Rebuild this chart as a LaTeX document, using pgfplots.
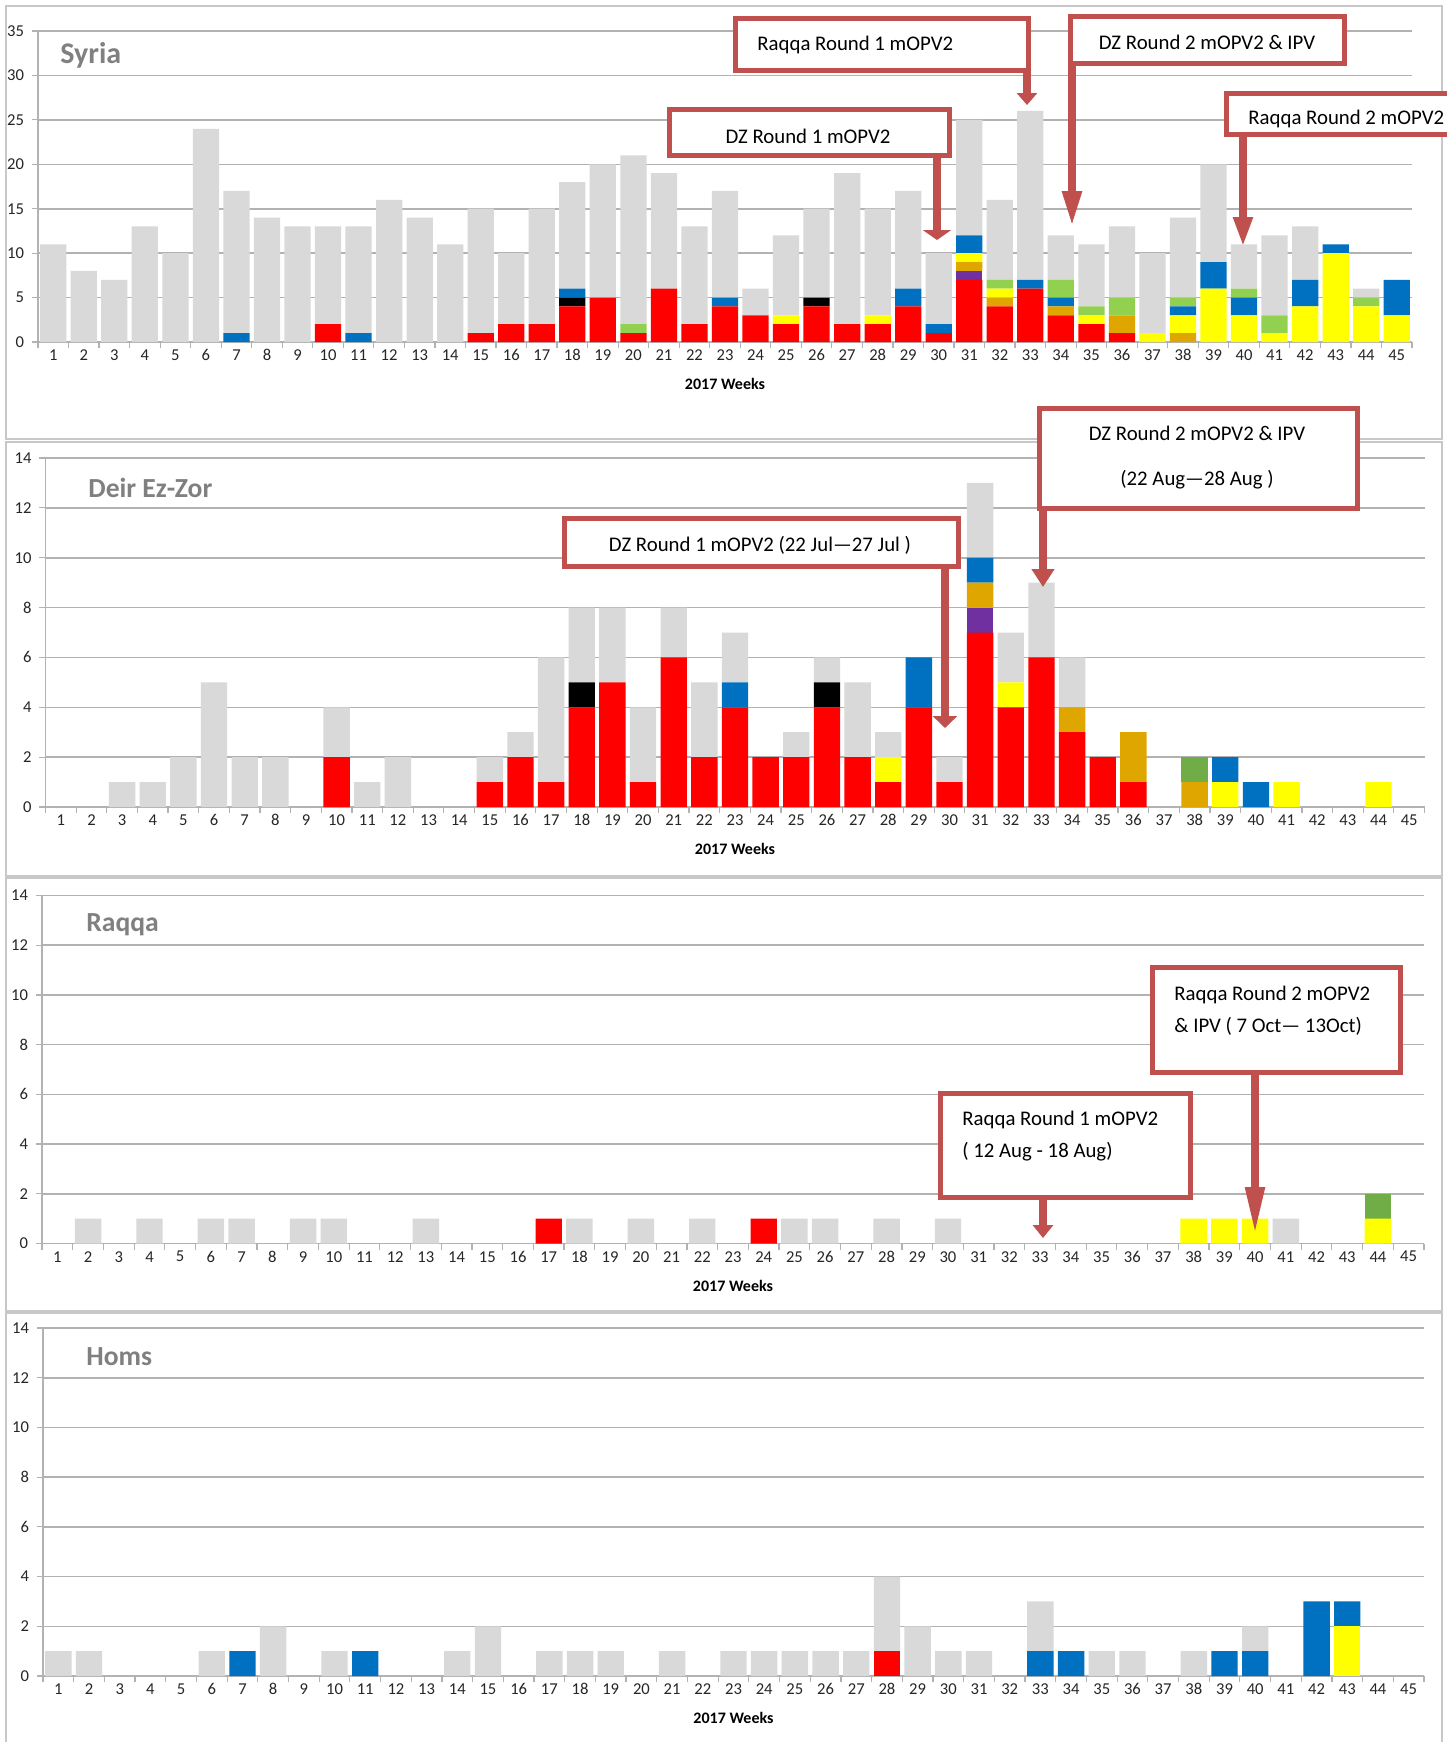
\documentclass[border=0pt]{standalone}
\usepackage{fontspec}
\setmainfont{Carlito}
\usepackage{pgfplots}
\pgfplotsset{compat=1.18}
\usepackage{pgfplotstable}
\usetikzlibrary{arrows.meta}

\definecolor{cRed}{RGB}{255,0,0}
\definecolor{cBlack}{RGB}{0,0,0}
\definecolor{cPurple}{RGB}{112,48,160}
\definecolor{cOrange}{RGB}{224,166,0}
\definecolor{cYellow}{RGB}{255,255,0}
\definecolor{cBlue}{RGB}{0,112,192}
\definecolor{cLGreen}{RGB}{146,208,80}
\definecolor{cDGreen}{RGB}{112,173,71}
\definecolor{cGrey}{RGB}{217,217,217}
\definecolor{annot}{RGB}{192,80,77}
\definecolor{gridc}{RGB}{178,178,178}
\definecolor{framec}{RGB}{200,200,200}
\definecolor{titlec}{RGB}{128,128,128}

% columns: week red black purple orange yellow blue green grey
\pgfplotstableread{
w r k p o y b g gr
1 0 0 0 0 0 0 0 11
2 0 0 0 0 0 0 0 8
3 0 0 0 0 0 0 0 7
4 0 0 0 0 0 0 0 13
5 0 0 0 0 0 0 0 10
6 0 0 0 0 0 0 0 24
7 0 0 0 0 0 1 0 16
8 0 0 0 0 0 0 0 14
9 0 0 0 0 0 0 0 13
10 2 0 0 0 0 0 0 11
11 0 0 0 0 0 1 0 12
12 0 0 0 0 0 0 0 16
13 0 0 0 0 0 0 0 14
14 0 0 0 0 0 0 0 11
15 1 0 0 0 0 0 0 14
16 2 0 0 0 0 0 0 8
17 2 0 0 0 0 0 0 13
18 4 1 0 0 0 1 0 12
19 5 0 0 0 0 0 0 15
20 1 0 0 0 0 0 1 19
21 6 0 0 0 0 0 0 13
22 2 0 0 0 0 0 0 11
23 4 0 0 0 0 1 0 12
24 3 0 0 0 0 0 0 3
25 2 0 0 0 1 0 0 9
26 4 1 0 0 0 0 0 10
27 2 0 0 0 0 0 0 17
28 2 0 0 0 1 0 0 12
29 4 0 0 0 0 2 0 11
30 1 0 0 0 0 1 0 8
31 7 0 1 1 1 2 0 13
32 4 0 0 1 1 0 1 9
33 6 0 0 0 0 1 0 19
34 3 0 0 1 0 1 2 5
35 2 0 0 0 1 0 1 7
36 1 0 0 2 0 0 2 8
37 0 0 0 0 1 0 0 9
38 0 0 0 1 2 1 1 9
39 0 0 0 0 6 3 0 11
40 0 0 0 0 3 2 1 5
41 0 0 0 0 1 0 2 9
42 0 0 0 0 4 3 0 6
43 0 0 0 0 10 1 0 0
44 0 0 0 0 4 0 1 1
45 0 0 0 0 3 4 0 0
}\syria

\pgfplotstableread{
w r k p o y b g gr
1 0 0 0 0 0 0 0 0
2 0 0 0 0 0 0 0 0
3 0 0 0 0 0 0 0 1
4 0 0 0 0 0 0 0 1
5 0 0 0 0 0 0 0 2
6 0 0 0 0 0 0 0 5
7 0 0 0 0 0 0 0 2
8 0 0 0 0 0 0 0 2
9 0 0 0 0 0 0 0 0
10 2 0 0 0 0 0 0 2
11 0 0 0 0 0 0 0 1
12 0 0 0 0 0 0 0 2
13 0 0 0 0 0 0 0 0
14 0 0 0 0 0 0 0 0
15 1 0 0 0 0 0 0 1
16 2 0 0 0 0 0 0 1
17 1 0 0 0 0 0 0 5
18 4 1 0 0 0 0 0 3
19 5 0 0 0 0 0 0 3
20 1 0 0 0 0 0 0 3
21 6 0 0 0 0 0 0 2
22 2 0 0 0 0 0 0 3
23 4 0 0 0 0 1 0 2
24 2 0 0 0 0 0 0 0
25 2 0 0 0 0 0 0 1
26 4 1 0 0 0 0 0 1
27 2 0 0 0 0 0 0 3
28 1 0 0 0 1 0 0 1
29 4 0 0 0 0 2 0 0
30 1 0 0 0 0 0 0 1
31 7 0 1 1 0 1 0 3
32 4 0 0 0 1 0 0 2
33 6 0 0 0 0 0 0 3
34 3 0 0 1 0 0 0 2
35 2 0 0 0 0 0 0 0
36 1 0 0 2 0 0 0 0
37 0 0 0 0 0 0 0 0
38 0 0 0 1 0 0 1 0
39 0 0 0 0 1 1 0 0
40 0 0 0 0 0 1 0 0
41 0 0 0 0 1 0 0 0
42 0 0 0 0 0 0 0 0
43 0 0 0 0 0 0 0 0
44 0 0 0 0 1 0 0 0
45 0 0 0 0 0 0 0 0
}\dz

\pgfplotstableread{
w r k p o y b g gr
2 0 0 0 0 0 0 0 1
4 0 0 0 0 0 0 0 1
6 0 0 0 0 0 0 0 1
7 0 0 0 0 0 0 0 1
9 0 0 0 0 0 0 0 1
10 0 0 0 0 0 0 0 1
13 0 0 0 0 0 0 0 1
17 1 0 0 0 0 0 0 0
18 0 0 0 0 0 0 0 1
20 0 0 0 0 0 0 0 1
22 0 0 0 0 0 0 0 1
24 1 0 0 0 0 0 0 0
25 0 0 0 0 0 0 0 1
26 0 0 0 0 0 0 0 1
28 0 0 0 0 0 0 0 1
30 0 0 0 0 0 0 0 1
38 0 0 0 0 1 0 0 0
39 0 0 0 0 1 0 0 0
40 0 0 0 0 1 0 0 0
41 0 0 0 0 0 0 0 1
44 0 0 0 0 1 0 1 0
}\raqqa

\pgfplotstableread{
w r k p o y b g gr
1 0 0 0 0 0 0 0 1
2 0 0 0 0 0 0 0 1
6 0 0 0 0 0 0 0 1
7 0 0 0 0 0 1 0 0
8 0 0 0 0 0 0 0 2
10 0 0 0 0 0 0 0 1
11 0 0 0 0 0 1 0 0
14 0 0 0 0 0 0 0 1
15 0 0 0 0 0 0 0 2
17 0 0 0 0 0 0 0 1
18 0 0 0 0 0 0 0 1
19 0 0 0 0 0 0 0 1
21 0 0 0 0 0 0 0 1
23 0 0 0 0 0 0 0 1
24 0 0 0 0 0 0 0 1
25 0 0 0 0 0 0 0 1
26 0 0 0 0 0 0 0 1
27 0 0 0 0 0 0 0 1
28 1 0 0 0 0 0 0 3
29 0 0 0 0 0 0 0 2
30 0 0 0 0 0 0 0 1
31 0 0 0 0 0 0 0 1
33 0 0 0 0 0 1 0 2
34 0 0 0 0 0 1 0 0
35 0 0 0 0 0 0 0 1
36 0 0 0 0 0 0 0 1
38 0 0 0 0 0 0 0 1
39 0 0 0 0 0 1 0 0
40 0 0 0 0 0 1 0 1
42 0 0 0 0 0 3 0 0
43 0 0 0 0 2 1 0 0
}\homs

\newcommand{\stackplots}[2]{%
  \addplot[fill=cRed,draw=none] table[x=w,y=r]{#1};
  \addplot[fill=cBlack,draw=none] table[x=w,y=k]{#1};
  \addplot[fill=cPurple,draw=none] table[x=w,y=p]{#1};
  \addplot[fill=cOrange,draw=none] table[x=w,y=o]{#1};
  \addplot[fill=cYellow,draw=none] table[x=w,y=y]{#1};
  \addplot[fill=cBlue,draw=none] table[x=w,y=b]{#1};
  \addplot[fill=#2,draw=none] table[x=w,y=g]{#1};
  \addplot[fill=cGrey,draw=none] table[x=w,y=gr]{#1};
}

\pgfplotsset{
  panel/.style={
    scale only axis, anchor=south west,
    ybar stacked, bar width=0.86,
    xmin=0.5, xmax=45.5, ymin=0,
    enlargelimits=false,
    xtick={1,...,45},
    minor xtick={0.5,1.5,...,45.5},
    axis x line*=bottom, axis y line*=left,
    axis line style={draw=gridc, line width=0.8pt},
    ymajorgrids, grid style={draw=gridc, line width=0.8pt},
    major tick length=0pt, minor tick length=3pt,
    tick align=outside,
    minor tick style={draw=gridc, line width=0.6pt},
    /pgf/number format/assume math mode=true,
    tick label style={font=\fontsize{8.3}{9}\selectfont, text=black!85},
    xticklabel style={anchor=center, yshift=-6.6pt},
    yticklabel style={anchor=east, xshift=-3.5pt},
    xlabel={2017 Weeks},
    xlabel style={font=\bfseries\fontsize{8}{9}\selectfont, at={(axis description cs:0.5,0)}, anchor=center, yshift=-21pt},
  },
}
\tikzset{
  annbox/.style={draw=annot, line width=2.5pt, fill=white},
  annarrow/.style={draw=annot, line width=4pt},
}

\begin{document}
\begin{tikzpicture}
\begin{scope}[x=0.5pt,y=-0.5pt]
\fill[white] (0,0) rectangle (1447,1742);
\draw[framec, line width=1pt] (5.5,5.5) rectangle (1442,439);
\draw[framec, line width=1pt] (5.5,442) rectangle (1442,876);
\draw[framec, line width=1pt] (5.5,878) rectangle (1442,1311);
\draw[framec, line width=1pt] (5.5,1313) rectangle (1442,1745);
\end{scope}

% Syria
\begin{axis}[panel, at={(19pt,-171pt)}, width=687pt, height=155.5pt,
  ymax=35, ytick={0,5,...,35}, minor ytick={0,5,...,35}]
\stackplots{\syria}{cLGreen}
\end{axis}

% Deir Ez-Zor
\begin{axis}[panel, at={(22.75pt,-403.5pt)}, width=689.5pt, height=174.5pt,
  ymax=14, ytick={0,2,...,14}, minor ytick={0,2,...,14}]
\stackplots{\dz}{cDGreen}
\end{axis}

% Raqqa
\begin{axis}[panel, at={(21pt,-621.75pt)}, width=691pt, height=174pt,
  ymax=14, ytick={0,2,...,14}, minor ytick={0,2,...,14}]
\stackplots{\raqqa}{cDGreen}
\end{axis}

% Homs
\begin{axis}[panel, at={(21.5pt,-838pt)}, width=690.5pt, height=174pt,
  ymax=14, ytick={0,2,...,14}, minor ytick={0,2,...,14}]
\stackplots{\homs}{cDGreen}
\end{axis}

\begin{scope}[x=0.5pt,y=-0.5pt]
% panel titles
\node[anchor=west, inner sep=0pt, text=titlec, font=\bfseries\fontsize{15}{17}\selectfont] at (60,55) {Syria};
\node[anchor=west, inner sep=0pt, text=titlec, font=\bfseries\fontsize{13.8}{16}\selectfont] at (88,488) {Deir Ez-Zor};
\node[anchor=west, inner sep=0pt, text=titlec, font=\bfseries\fontsize{13.8}{16}\selectfont] at (86,925) {Raqqa};
\node[anchor=west, inner sep=0pt, text=titlec, font=\bfseries\fontsize{13.8}{16}\selectfont] at (86,1357) {Homs};

\begin{scope}[every node/.style={font=\fontsize{10.4}{12}\selectfont, inner sep=0pt}]
% annotations - Syria
\draw[annbox] (735,18) rectangle (1028,70);
\node[anchor=west] at (757,45) {Raqqa Round 1 mOPV2};
\draw[annarrow, -{Triangle[length=6pt,width=10pt]}] (1027,70) -- (1027,105);

\draw[annbox] (1070,16) rectangle (1344,63);
\node at (1207,42) {DZ Round 2 mOPV2 \& IPV};
\draw[annarrow, -{Triangle[length=18pt,width=9pt]}] (1072,63) -- (1072,227);

\draw[annbox] (669,109) rectangle (949,155);
\node at (808,136) {DZ Round 1 mOPV2};
\draw[annarrow, -{Triangle[length=5pt,width=14pt]}] (937,155) -- (937,240);

\draw[annbox] (1226,93) rectangle (1470,134);
\node[anchor=west] at (1248,119) {Raqqa Round 2 mOPV2};
\draw[annarrow, -{Triangle[length=15pt,width=9pt]}] (1243,134) -- (1243,247);

% annotations - Deir Ez-Zor
\draw[annbox] (564,518) rectangle (958,566);
\node at (760,545) {DZ Round 1 mOPV2 (22 Jul—27 Jul )};
\draw[annarrow, -{Triangle[length=6pt,width=12pt]}] (945,566) -- (945,728);

\draw[annbox] (1039,408) rectangle (1357,508);
\node at (1197,433) {DZ Round 2 mOPV2 \& IPV};
\node at (1197,480) {(22 Aug—28 Aug )};
\draw[annarrow, -{Triangle[length=9pt,width=11pt]}] (1043,508) -- (1043,587);

% annotations - Raqqa
\draw[annbox] (1152,967) rectangle (1400,1072);
\node[anchor=west] at (1174,995) {Raqqa Round 2 mOPV2};
\node[anchor=west] at (1174,1026) {\& IPV ( 7 Oct— 13Oct)};
\draw[annarrow, -{Triangle[length=24pt,width=9pt]}] (1255,1072) -- (1255,1235);

\draw[annbox] (940,1093) rectangle (1190,1197);
\node[anchor=west] at (962,1120) {Raqqa Round 1 mOPV2};
\node[anchor=west] at (962,1152) {( 12 Aug - 18 Aug)};
\draw[annarrow, -{Triangle[length=6.5pt,width=10pt]}] (1043,1197) -- (1043,1238);
\end{scope}
\end{scope}
\pgfresetboundingbox
\path[use as bounding box] (0pt,0pt) rectangle (723.5pt,-871pt);
\end{tikzpicture}
\end{document}
